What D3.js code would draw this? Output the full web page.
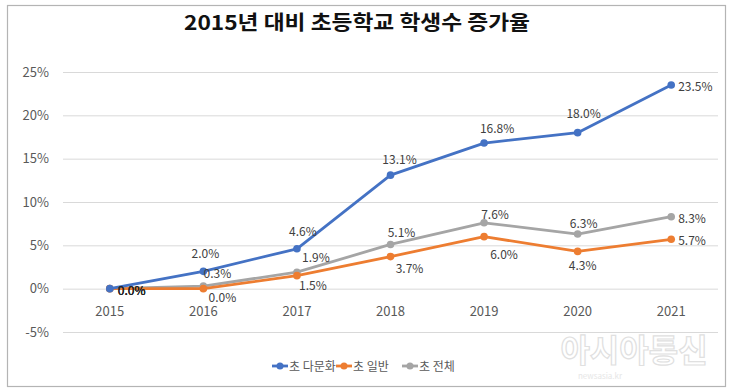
<!DOCTYPE html>
<html><head><meta charset="utf-8">
<script src="https://cdn.jsdelivr.net/npm/d3@7"></script>
<style>
html,body{margin:0;padding:0;background:#fff;}
svg{display:block;font-family:"Noto Sans CJK KR","Noto Sans",sans-serif;}
</style></head>
<body><svg id="c" width="734" height="392"></svg>
<script>
const title = "2015년 대비 초등학교 학생수 증가율";
const years = ["2015","2016","2017","2018","2019","2020","2021"];
const multicultural = [0.0, 2.0, 4.6, 13.1, 16.8, 18.0, 23.5];
const general = [0.0, 0.0, 1.5, 3.7, 6.0, 4.3, 5.7];
const total = [0.0, 0.3, 1.9, 5.1, 7.6, 6.3, 8.3];
const seriesNames = ["초 다문화", "초 일반", "초 전체"];
const yTicks = [-5, 0, 5, 10, 15, 20, 25];

const colors = ["#4472C4", "#ED7D31", "#A5A5A5"];
// label offsets (layout only)
const labelOffsets = [
  [[8,2],[2,-17],[6,-17],[9,-15],[13,-14],[6,-19],[7,2]],
  [[8,2],[19,9],[16,10],[19,12],[20,18],[5,15],[7,2]],
  [[8,2],[14,-12],[19,-14],[11,-11],[11,-8],[6,-10],[7,2]]
];

const svg = d3.select("#c");
svg.append("rect").attr("x",7.5).attr("y",5.5).attr("width",718).attr("height",381)
  .attr("fill","#fff").attr("stroke","#b4b4b4").attr("stroke-width",1.2);

svg.append("text").attr("x",357).attr("y",30).attr("text-anchor","middle")
  .attr("font-size",20).attr("font-weight","bold").attr("fill","#111")
  .attr("textLength",346).attr("lengthAdjust","spacingAndGlyphs")
  .text(title);

const x = d3.scaleBand().domain(years).range([63,718]);
const y = d3.scaleLinear().domain([-5,25]).range([332,72]);

// gridlines
svg.append("g").selectAll("line").data(yTicks).join("line")
  .attr("x1",63).attr("x2",718).attr("y1",d=>y(d)+0.5).attr("y2",d=>y(d)+0.5)
  .attr("stroke","#d9d9d9").attr("stroke-width",1);

// y axis labels
const yAxis = d3.axisLeft(y).tickValues(yTicks).tickFormat(d=>d+"%").tickSize(0).tickPadding(0);
const gy = svg.append("g").attr("transform","translate(49,0)").call(yAxis);
gy.select(".domain").remove();
gy.selectAll("text").attr("font-size",13).attr("fill","#595959")
  .attr("font-family","'Noto Sans CJK KR','Noto Sans',sans-serif");

// x axis labels
const xAxis = d3.axisBottom(x).tickSize(0).tickPadding(0);
const gx = svg.append("g").attr("transform","translate(0,307)").call(xAxis);
gx.select(".domain").remove();
gx.selectAll("text").attr("font-size",13).attr("fill","#595959")
  .attr("font-family","'Noto Sans CJK KR','Noto Sans',sans-serif");

// watermark
svg.append("text").attr("x",634).attr("y",362).attr("text-anchor","middle")
  .attr("font-size",32).attr("font-weight","bold").attr("fill","#fff")
  .attr("stroke","#e0e0e0").attr("stroke-width",1.2).text("아시아통신");
svg.append("text").attr("x",600).attr("y",379).attr("text-anchor","middle")
  .attr("font-size",8).attr("fill","#e6e6e6").text("newsasia.kr");

const allSeries = [multicultural, general, total];
const drawOrder = [2,1,0];
const line = d3.line().x((d,i)=>x(years[i])+x.bandwidth()/2).y(d=>y(d));

drawOrder.forEach(s=>{
  const vals = allSeries[s];
  svg.append("path").datum(vals).attr("d",line).attr("fill","none")
    .attr("stroke",colors[s]).attr("stroke-width",2.8).attr("stroke-linejoin","round");
  svg.append("g").selectAll("circle").data(vals).join("circle")
    .attr("cx",(d,i)=>x(years[i])+x.bandwidth()/2).attr("cy",d=>y(d)).attr("r",3.8)
    .attr("fill",colors[s]);
});
[0,1,2].forEach(s=>{
  const vals = allSeries[s];
  svg.append("g").selectAll("text").data(vals).join("text")
    .attr("x",(d,i)=>x(years[i])+x.bandwidth()/2+labelOffsets[s][i][0])
    .attr("y",(d,i)=>y(d)+labelOffsets[s][i][1]+4)
    .attr("text-anchor",(d,i)=>(i===0||i===vals.length-1)?"start":"middle")
    .attr("font-size",12).attr("fill",(d,i)=>i===0?"#262626":"#404040")
    .text(d=>d.toFixed(1)+"%");
});

// legend
const legendX = [272, 336, 402];
const lg = svg.append("g");
seriesNames.forEach((n,i)=>{
  lg.append("line").attr("x1",legendX[i]).attr("x2",legendX[i]+16).attr("y1",366).attr("y2",366)
    .attr("stroke",colors[i]).attr("stroke-width",2.8);
  lg.append("circle").attr("cx",legendX[i]+8).attr("cy",366).attr("r",3.5).attr("fill",colors[i]);
  lg.append("text").attr("x",legendX[i]+17).attr("y",370.5).attr("font-size",12)
    .attr("fill","#595959").text(n);
});
</script></body></html>
